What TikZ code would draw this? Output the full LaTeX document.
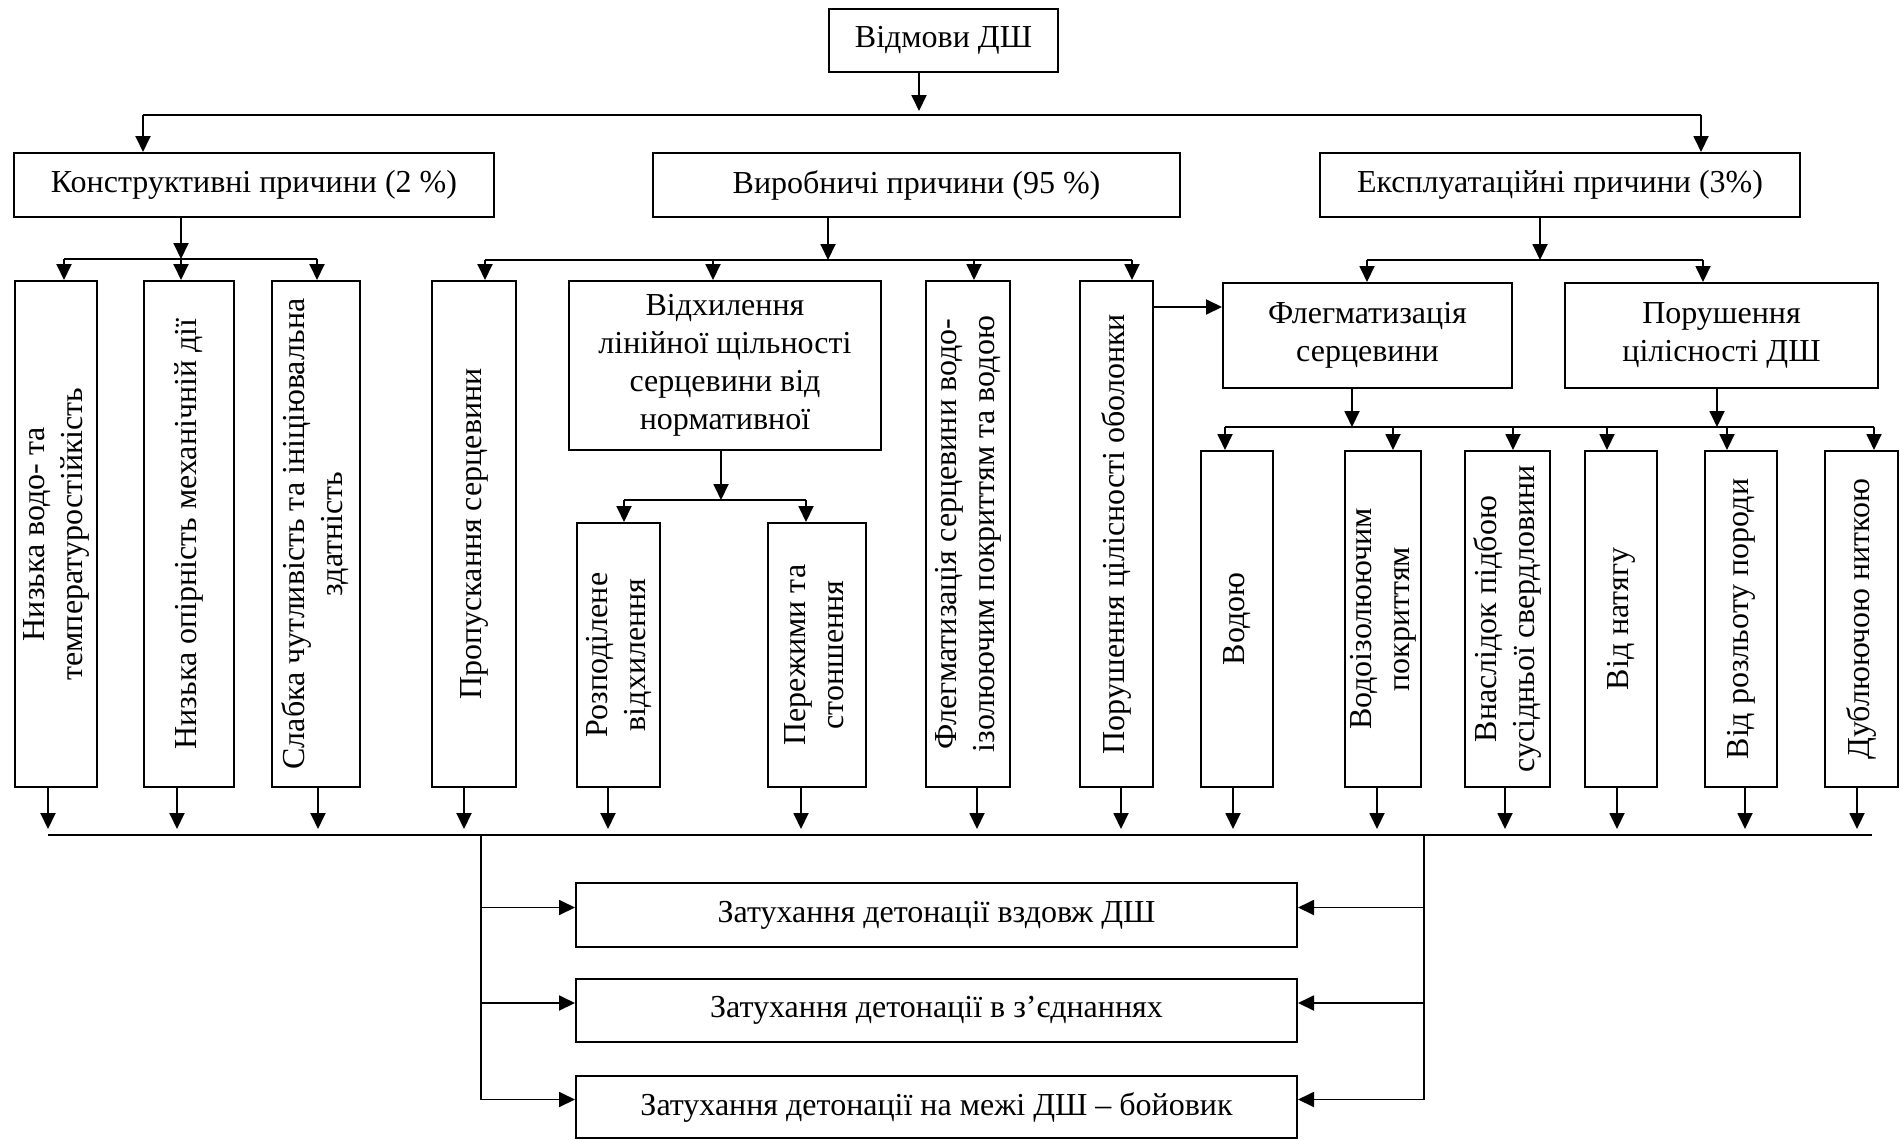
\documentclass[tikz,border=0pt]{standalone}
\usepackage{fontspec}
\setmainfont{Liberation Serif}
\usetikzlibrary{arrows.meta}
\newcommand\vtxt[1]{\rotatebox{90}{\begin{tabular}{@{}c@{}}#1\end{tabular}}}
\begin{document}
\begin{tikzpicture}[x=1pt,y=-1pt,
  box/.style={draw, line width=2pt, inner sep=0pt, align=center, font=\fontsize{32}{38}\selectfont},
  sz/.style 2 args={minimum width=#1, minimum height=#2},
  ln/.style={line width=1.9pt},
  arr/.style={line width=1.9pt, -{Triangle[length=16pt,width=15pt]}},
]
\useasboundingbox (0,0) rectangle (1903,1140);

% level 0-1
\node[box, sz={229}{63}] (top) at (943.5,40.5) {Відмови ДШ};
\node[box, sz={480}{64}] (k) at (254,185) {Конструктивні причини (2~\%)};
\node[box, sz={527}{64}] (v) at (916.5,185) {Виробничі причини (95~\%)};
\node[box, sz={480}{64}] (e) at (1560,185) {Експлуатаційні причини (3\%)};

% level 2
\node[box, sz={82}{506}] (b1) at (56,534) {\vtxt{Низька водо- та\\температуростійкість}};
\node[box, sz={90}{506}] (b2) at (189,534) {\vtxt{Низька опірність механічній дії}};
\node[box, sz={88}{506}] (b3) at (316,534) {\vtxt{Слабка чутливість та ініціювальна\\здатність}};
\node[box, sz={84}{506}] (b4) at (474,534) {\vtxt{Пропускання серцевини}};
\node[box, sz={312}{169}] (dev) at (725,365.5) {Відхилення\\лінійної щільності\\серцевини від\\нормативної};
\node[box, sz={83}{264}] (d1) at (618.5,655) {\vtxt{Розподілене\\відхилення}};
\node[box, sz={98}{264}] (d2) at (817,655) {\vtxt{Пережими та\\стоншення}};
\node[box, sz={84}{506}] (b6) at (968,534) {\vtxt{Флегматизація серцевини водо-\\ізолюючим покриттям та водою}};
\node[box, sz={73}{506}] (b7) at (1116.5,534) {\vtxt{Порушення цілісності оболонки}};
\node[box, sz={289}{105}] (f) at (1367.5,335.5) {Флегматизація\\серцевини};
\node[box, sz={313}{105}] (p) at (1721.5,335.5) {Порушення\\цілісності ДШ};

% level 3
\node[box, sz={72}{336}] (c1) at (1237,619) {\vtxt{Водою}};
\node[box, sz={76}{336}] (c2) at (1383,619) {\vtxt{Водоізолюючим\\покриттям}};
\node[box, sz={85}{336}] (c3) at (1507.5,619) {\vtxt{Внаслідок підбою\\сусідньої свердловини}};
\node[box, sz={72}{336}] (c4) at (1621,619) {\vtxt{Від натягу}};
\node[box, sz={72}{336}] (c5) at (1741,619) {\vtxt{Від розльоту породи}};
\node[box, sz={73}{336}] (c6) at (1861.5,619) {\vtxt{Дублюючою ниткою}};

% results
\node[box, sz={721}{64}] (z1) at (936.5,915) {Затухання детонації вздовж ДШ};
\node[box, sz={721}{63}] (z2) at (936.5,1010.5) {Затухання детонації в з’єднаннях};
\node[box, sz={721}{62}] (z3) at (936.5,1107) {Затухання детонації на межі ДШ – бойовик};

% top bus
\coordinate (jTop) at (919,115);
\coordinate (tL) at (143,115);
\coordinate (tR) at (1701,115);
\draw[arr, shorten >=4pt] (jTop |- top.south) -- (jTop);
\draw[ln] (tL) -- (tR);
\draw[arr] (tL) -- (tL |- k.north);
\draw[arr] (tR) -- (tR |- e.north);

% constructive
\coordinate (jK) at (181,259);
\coordinate (kL) at (64,259);
\coordinate (kR) at (317,259);
\draw[arr] (jK |- k.south) -- (jK);
\draw[ln] (kL) -- (kR);
\draw[arr] (kL) -- (kL |- b1.north);
\draw[arr] (jK) -- (jK |- b2.north);
\draw[arr] (kR) -- (kR |- b3.north);

% production
\coordinate (jV) at (828,260);
\coordinate (vA) at (485,260);
\coordinate (vB) at (713,260);
\coordinate (vC) at (974,260);
\coordinate (vD) at (1132,260);
\draw[arr] (jV |- v.south) -- (jV);
\draw[ln] (vA) -- (vD);
\draw[arr] (vA) -- (vA |- b4.north);
\draw[arr] (vB) -- (vB |- dev.north);
\draw[arr] (vC) -- (vC |- b6.north);
\draw[arr] (vD) -- (vD |- b7.north);

% operation
\coordinate (jE) at (1540,260);
\coordinate (eA) at (1367,260);
\coordinate (eB) at (1703,260);
\draw[arr] (jE |- e.south) -- (jE);
\draw[ln] (eA) -- (eB);
\draw[arr] (eA) -- (eA |- f.north);
\draw[arr] (eB) -- (eB |- p.north);

% shell -> phlegmatization
\coordinate (hf) at ([yshift=227pt]b7.east);
\draw[arr] (hf) -- (hf -| f.west);

% deviation
\coordinate (jD) at (721,500);
\coordinate (dA) at (624,500);
\coordinate (dB) at (806,500);
\draw[arr] (jD |- dev.south) -- (jD);
\draw[ln] (dA) -- (dB);
\draw[arr] (dA) -- (dA |- d1.north);
\draw[arr] (dB) -- (dB |- d2.north);

% right bus
\coordinate (jF) at (1352,427);
\coordinate (jP) at (1717,427);
\coordinate (gA) at (1225,427);
\coordinate (gB) at (1393,427);
\coordinate (gC) at (1513,427);
\coordinate (gD) at (1607,427);
\coordinate (gE) at (1727,427);
\coordinate (gF) at (1874,427);
\draw[arr] (jF |- f.south) -- (jF);
\draw[arr] (jP |- p.south) -- (jP);
\draw[ln] (gA) -- (gF);
\draw[arr] (gA) -- (gA |- c1.north);
\draw[arr] (gB) -- (gB |- c2.north);
\draw[arr] (gC) -- (gC |- c3.north);
\draw[arr] (gD) -- (gD |- c4.north);
\draw[arr] (gE) -- (gE |- c5.north);
\draw[arr] (gF) -- (gF |- c6.north);

% bottom bus
\coordinate (q1) at (48,835);
\coordinate (q2) at (177,835);
\coordinate (q3) at (318,835);
\coordinate (q4) at (464,835);
\coordinate (q5) at (608,835);
\coordinate (q6) at (801,835);
\coordinate (q7) at (977,835);
\coordinate (q8) at (1121,835);
\coordinate (q9) at (1233,835);
\coordinate (q10) at (1377,835);
\coordinate (q11) at (1505,835);
\coordinate (q12) at (1617,835);
\coordinate (q13) at (1745,835);
\coordinate (q14) at (1857,835);
\coordinate (qEnd) at (1872,835);
\draw[ln] (q1) -- (qEnd);
\foreach \q/\b in {q1/b1,q2/b2,q3/b3,q4/b4,q5/d1,q6/d2,q7/b6,q8/b7,q9/c1,q10/c2,q11/c3,q12/c4,q13/c5,q14/c6}
  \draw[arr, shorten >=6pt] (\q |- \b.south) -- (\q);

% result feeds
\coordinate (bl) at (481,835);
\coordinate (br) at (1424,835);
\coordinate (z1w) at ([yshift=7.5pt]z1.west);
\coordinate (z2w) at ([yshift=7.5pt]z2.west);
\coordinate (z3w) at ([yshift=7.5pt]z3.west);
\coordinate (z1e) at ([yshift=7.5pt]z1.east);
\coordinate (z2e) at ([yshift=7.5pt]z2.east);
\coordinate (z3e) at ([yshift=7.5pt]z3.east);
\draw[ln] (bl) -- (bl |- z3w);
\draw[ln] (br) -- (br |- z3e);
\draw[arr] (bl |- z1w) -- (z1w);
\draw[arr] (bl |- z2w) -- (z2w);
\draw[arr] (bl |- z3w) -- (z3w);
\draw[arr] (br |- z1e) -- (z1e);
\draw[arr] (br |- z2e) -- (z2e);
\draw[arr] (br |- z3e) -- (z3e);
\end{tikzpicture}
\end{document}
